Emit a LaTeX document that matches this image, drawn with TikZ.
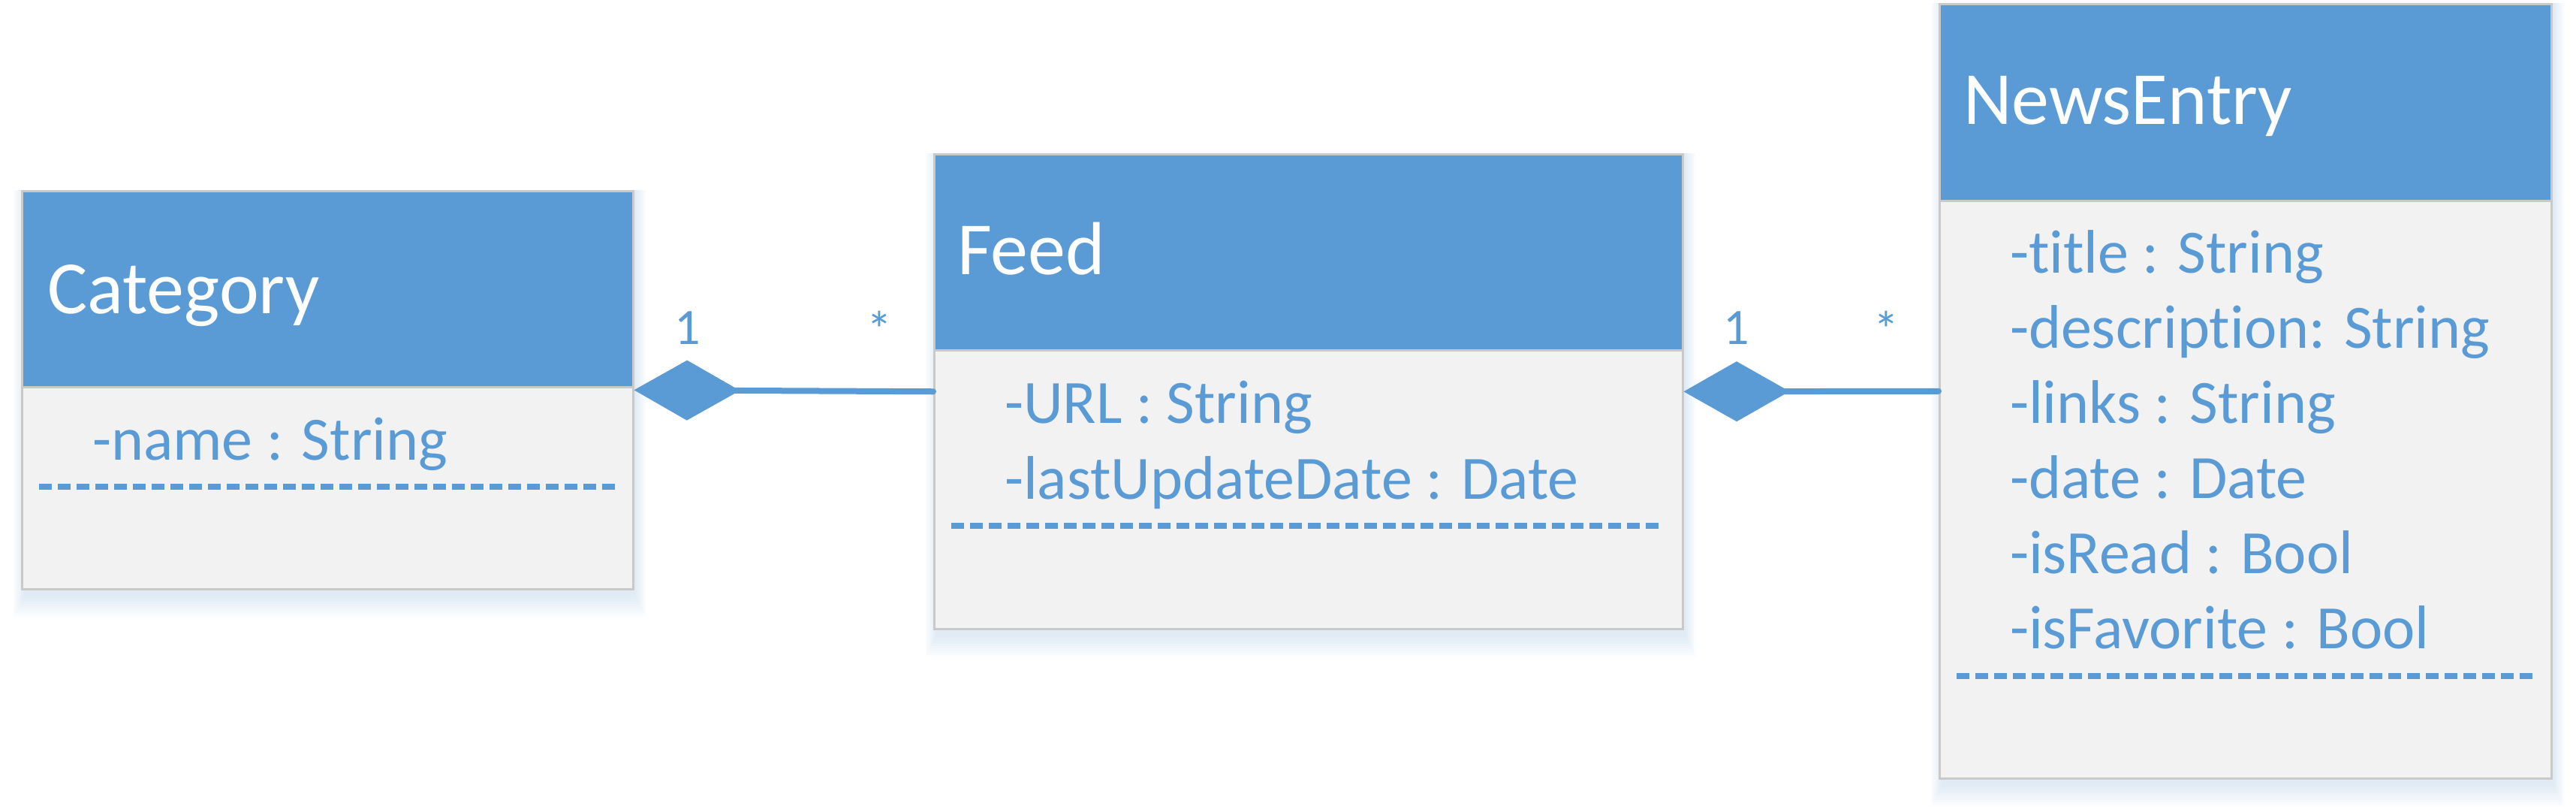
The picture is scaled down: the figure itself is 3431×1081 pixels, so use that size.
\documentclass[tikz,border=0pt]{standalone}
\usepackage{fontspec}
\setmainfont{Carlito}[Ligatures=NoCommon]
\usetikzlibrary{arrows.meta}

\definecolor{umlblue}{HTML}{5B9BD5}
\definecolor{umlgray}{HTML}{F2F2F2}
\definecolor{umledge}{HTML}{C9C9C9}
\definecolor{glowblue}{HTML}{9DC3E6}

\tikzset{
  clsbox/.style={draw=umledge, line width=0.5pt, fill=umlgray, anchor=north west, inner sep=0pt},
  clshead/.style={draw=umledge, line width=0.5pt, fill=umlblue, anchor=north west, inner sep=0pt},
  clsname/.style={anchor=base west, inner sep=0pt, text=white, font=\fontsize{20pt}{24pt}\selectfont},
  clsattr/.style={anchor=base west, inner sep=0pt, text=umlblue,
    font=\fontsize{16.4pt}{20pt}\selectfont},
  sepline/.style={draw=umlblue, line width=1.7pt, dash pattern=on 3.4pt off 1.6pt},
  mult/.style={anchor=base, inner sep=0pt, text=umlblue, font=\fontsize{13.6pt}{16pt}\selectfont},
  compo/.style={draw=umlblue, line width=1.6pt, line cap=round,
    {Diamond[length=28.2pt,width=16pt]}-},
}

\begin{document}
\begin{tikzpicture}[x=0.2pt,y=-0.2pt]
  \fill[white] (0,0) rectangle (3431,1081);
  \useasboundingbox (0,0) rectangle (3431,1081);

  % soft glow under the boxes
  \foreach \xa/\ya/\xb/\yb in {28/253/842/783, 1243/204/2240/836, 2582/4/3397/1035}
    \foreach \r in {2,5,...,29}
      \fill[glowblue, opacity=0.03] (\xa-\r/2+4,\ya) rectangle (\xb+\r/2+4,\yb+\r+10);

  %Shape: class boxes
  \node[clsbox, minimum width=162.8pt, minimum height=106pt] (cat) at (28,253) {};
  \node[clsbox, minimum width=199.4pt, minimum height=126.4pt] (feed) at (1243,204) {};
  \node[clsbox, minimum width=163pt, minimum height=206.2pt] (news) at (2582,4) {};

  %Shape: headers
  \node[clshead, minimum width=162.8pt, minimum height=52.2pt] (cathead) at (cat.north west) {};
  \node[clshead, minimum width=199.4pt, minimum height=52.2pt] (feedhead) at (feed.north west) {};
  \node[clshead, minimum width=163pt, minimum height=52.4pt] (newshead) at (news.north west) {};

  % Text Node
  \node[clsname] (catname) at (62,417) {Category};
  \node[clsname] (feedname) at (1274,365) {Feed};
  \node[clsname] (newsname) at (2614,165) {NewsEntry};

  % Text Node
  \node[clsattr] (catattr1) at (122,612) {-name : String};
  \foreach \t [count=\i] in {-URL : String, -lastUpdateDate : Date}
    \node[clsattr] (feedattr\i) at (1337,462+101*\i) {\t};
  \foreach \t [count=\i] in {-title : String, -description: String, -links : String,
      -date : Date, -isRead : Bool, -isFavorite : Bool}
    \node[clsattr] (newsattr\i) at (2676,263+100*\i) {\t};

  %Straight Lines: separators
  \draw[sepline] (52,648) -- (820,648);
  \draw[sepline] (1267,700) -- (2216,700);
  \draw[sepline] (2606,900) -- (3373,900);

  %Straight Lines: compositions
  \draw[compo] (cat.east) -- (feed.west);
  \draw[compo] (feed.east) -- (news.west);

  % Text Node
  \node[mult] (m1) at (916,458) {1};
  \node[mult] (m2) at (1171,462) {*};
  \node[mult] (m3) at (2313,458) {1};
  \node[mult] (m4) at (2512,462) {*};
\end{tikzpicture}
\end{document}
